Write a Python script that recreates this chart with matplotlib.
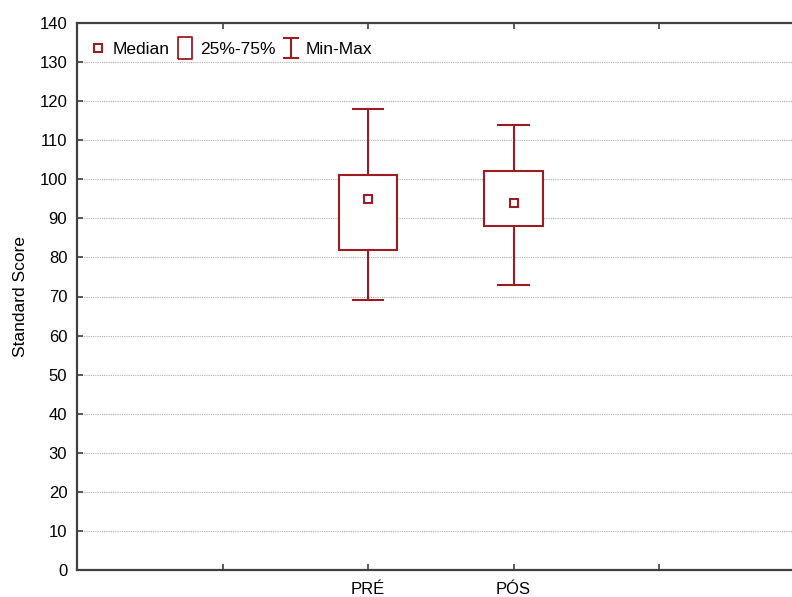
import matplotlib
matplotlib.use("Agg")
import matplotlib.pyplot as plt
from matplotlib.patches import Rectangle
from matplotlib.lines import Line2D
from matplotlib.path import Path

plt.rcParams['font.family'] = ['Liberation Sans', 'DejaVu Sans']

groups = ["PRÉ", "PÓS"]
pos = [2, 3]
mins = [69, 73]
q1 = [82, 88]
medians = [95, 94]
q3 = [101, 102]
maxs = [118, 114]

tick_pos = [1, 2, 3, 4]
tick_labels = ["", "PRÉ", "PÓS", ""]

col = "#9B1C22"

fig = plt.figure(figsize=(7.92, 5.97), dpi=100)
# axes run off the right edge, like the original screenshot
ax = fig.add_axes([77/792, 27/597, 5*145.5/792, 547/597])

box_w = 0.4
cap_w = 0.21
for x, lo, a, m, b, hi in zip(pos, mins, q1, medians, q3, maxs):
    ax.plot([x, x], [b, hi], color=col, lw=1.5, zorder=3)
    ax.plot([x, x], [lo, a], color=col, lw=1.5, zorder=3)
    ax.plot([x - cap_w/2, x + cap_w/2], [hi, hi], color=col, lw=1.5, zorder=3)
    ax.plot([x - cap_w/2, x + cap_w/2], [lo, lo], color=col, lw=1.5, zorder=3)
    ax.add_patch(Rectangle((x - box_w/2, a), box_w, b - a, facecolor="white",
                           edgecolor=col, lw=1.5, zorder=3))
    ax.plot(x, m, marker="s", ms=5.5, mfc="white", mec=col, mew=1.5, zorder=4)

ax.set_xlim(0, 5)
ax.set_ylim(0, 140)
ax.set_yticks(range(0, 141, 10))
ax.set_xticks(tick_pos)
ax.set_xticklabels(tick_labels)
ax.tick_params(axis="both", labelsize=12, color="#404040", length=4, width=1.2)
ax.tick_params(axis="x", direction="in", top=True, pad=9)
ax.tick_params(axis="y", direction="in", pad=7)
ax.yaxis.grid(True, linestyle=(0, (1, 1)), color="#b0b0b0", lw=0.8)
ax.set_axisbelow(True)
for s in ax.spines.values():
    s.set_color("#404040")
    s.set_linewidth(1.6)
ax.set_ylabel("Standard Score", fontsize=12.5, labelpad=8)

ibar = Path([(-0.75, 1), (0.75, 1), (0, 1), (0, -1), (-0.75, -1), (0.75, -1)],
            [Path.MOVETO, Path.LINETO, Path.MOVETO, Path.LINETO, Path.MOVETO, Path.LINETO])
rect = Path([(-0.6, -1), (0.6, -1), (0.6, 1), (-0.6, 1), (-0.6, -1)])
handles = [
    Line2D([], [], marker="s", ls="none", ms=5.5, mfc="white", mec=col, mew=1.5),
    Line2D([], [], marker=rect, ls="none", ms=16, mfc="none", mec=col, mew=1.3),
    Line2D([], [], marker=ibar, ls="none", ms=14.5, color=col, mew=1.5),
]
ax.legend(handles, ["Median", "25%-75%", "Min-Max"], loc="upper left", ncol=3,
          frameon=False, fontsize=12.5, handlelength=0.8, handletextpad=0.45,
          columnspacing=0.5, bbox_to_anchor=(-0.007, 1.0), borderaxespad=0.7)

fig.savefig("out.png", dpi=100)
